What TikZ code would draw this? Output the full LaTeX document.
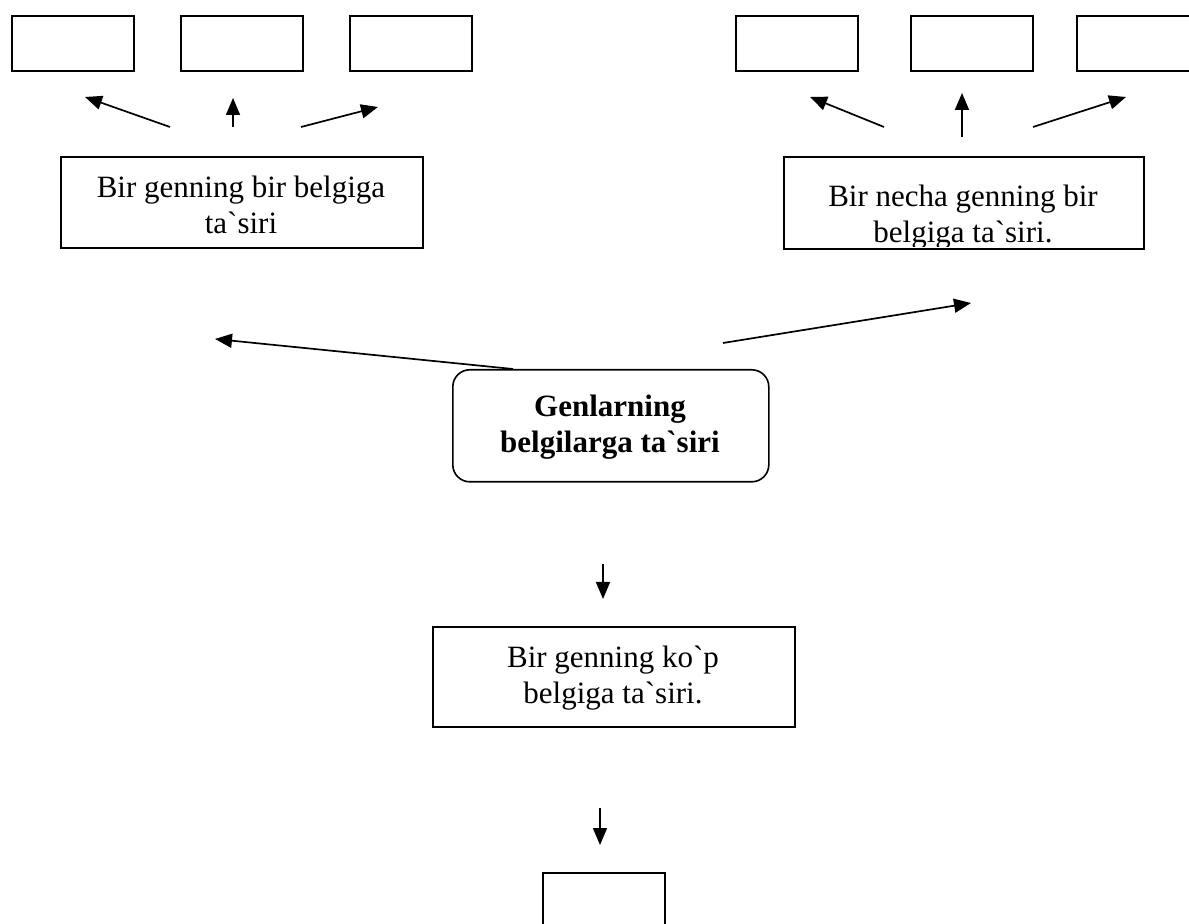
\documentclass[tikz,border=0pt]{standalone}
\usepackage{fontspec}
\setmainfont{Liberation Serif}[Ligatures=TeXOff]
\usetikzlibrary{arrows.meta}
\begin{document}
\begin{tikzpicture}[x=0.5pt,y=-0.5pt,
  frame/.style 2 args={draw, line width=0.8pt, fill=white, inner sep=0pt,
    anchor=north west, minimum width=#1*0.5pt, minimum height=#2*0.5pt},
  arr/.style={line width=0.85pt, -{Triangle[length=8.5pt,width=7pt]}},
  txt/.style={inner sep=0pt, align=center, anchor=north,
    font=\fontsize{15.5}{18}\selectfont},
]
\path[use as bounding box] (0,0) rectangle (1189,924);
\clip (0,0) rectangle (1189,924);

% empty boxes, left group
\node[frame={122}{55}] (l1) at (11,15) {};
\node[frame={122}{55}] (l2) at (180,15) {};
\node[frame={122}{55}] (l3) at (349,15) {};
% empty boxes, right group
\node[frame={122}{55}] (r1) at (735,15) {};
\node[frame={122}{55}] (r2) at (910,15) {};
\node[frame={122}{55}] (r3) at (1076,15) {};

% labelled boxes
\node[frame={362}{91}] (a) at (60,156) {};
\node[txt] (atext) at (241,176) {Bir genning bir belgiga\\ta`siri};

\node[frame={360}{92}] (b) at (783,156) {};
\begin{scope}
  \clip (784,157) rectangle (1142,247);
  \node[txt] (btext) at (963,185) {Bir necha genning bir\\belgiga ta`siri.};
\end{scope}

\node[frame={316}{112}, rounded corners=8.5pt] (c) at (452,369) {};
\node[txt, font=\fontsize{15.5}{18}\selectfont\bfseries] (ctext) at (610,395)
  {Genlarning\\belgilarga ta`siri};

\node[frame={362}{100}] (d) at (432,626) {};
\node[txt] (dtext) at (613,646) {Bir genning ko`p\\belgiga ta`siri.};

\node[frame={122}{80}] (e) at (542,872) {};

% arrow end points
\coordinate (la1) at (170,127); \coordinate (lb1) at (85,97);
\coordinate (la2) at (233,127); \coordinate (lb2) at (233,98);
\coordinate (la3) at (301,127); \coordinate (lb3) at (378,107);
\coordinate (ra1) at (884,127); \coordinate (rb1) at (810,97);
\coordinate (ra2) at (962,137); \coordinate (rb2) at (962,93);
\coordinate (ra3) at (1033,127); \coordinate (rb3) at (1126,97);
\coordinate (cl) at (513,369);  \coordinate (tl) at (215,339);
\coordinate (cr) at (723,343);  \coordinate (tr) at (971,303);
\coordinate (d1a) at (603,564); \coordinate (d1b) at (603,599);
\coordinate (d2a) at (600,808); \coordinate (d2b) at (600,845);

\draw[arr] (la1) -- (lb1);
\draw[arr] (la2) -- (lb2);
\draw[arr] (la3) -- (lb3);
\draw[arr] (ra1) -- (rb1);
\draw[arr] (ra2) -- (rb2);
\draw[arr] (ra3) -- (rb3);
\draw[arr] (cl) -- (tl);
\draw[arr] (cr) -- (tr);
\draw[arr] (d1a) -- (d1b);
\draw[arr] (d2a) -- (d2b);
\end{tikzpicture}
\end{document}
